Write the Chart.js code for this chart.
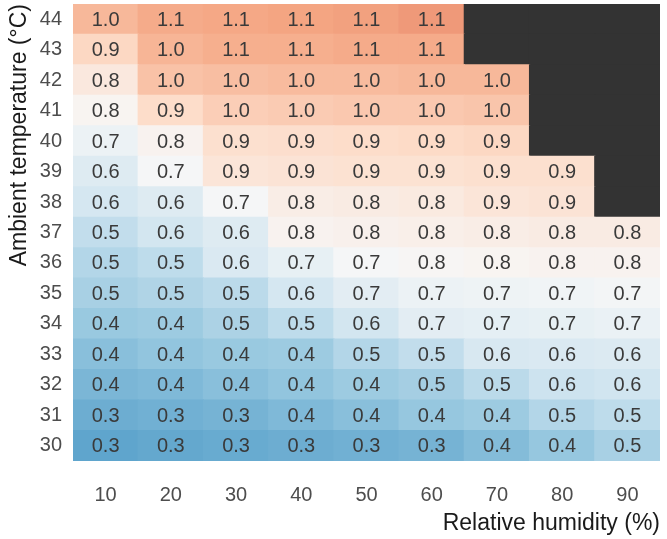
<!DOCTYPE html>
<html>
<head>
<meta charset="utf-8">
<script src="https://cdn.jsdelivr.net/npm/chart.js@4.4.1/dist/chart.umd.min.js"></script>
<style>
  html, body { margin: 0; padding: 0; background: #ffffff; }
  #wrap { width: 667px; height: 539px; position: relative; }
</style>
</head>
<body>
<div id="wrap"><canvas id="heat"></canvas></div>
<script>
// Relative humidity categories (%) along x
const humidity = ['10', '20', '30', '40', '50', '60', '70', '80', '90'];
// Ambient temperatures (°C) along y
const temperatures = [30, 31, 32, 33, 34, 35, 36, 37, 38, 39, 40, 41, 42, 43, 44];

// Cell values per temperature row, ordered by humidity 10..90 (null = no data)
const row30 = [0.30, 0.31, 0.32, 0.33, 0.34, 0.35, 0.38, 0.42, 0.47];
const row31 = [0.33, 0.34, 0.35, 0.37, 0.39, 0.42, 0.44, 0.50, 0.53];
const row32 = [0.36, 0.37, 0.39, 0.41, 0.44, 0.46, 0.52, 0.57, 0.58];
const row33 = [0.39, 0.41, 0.43, 0.44, 0.50, 0.54, 0.61, 0.62, 0.63];
const row34 = [0.43, 0.44, 0.48, 0.53, 0.59, 0.66, 0.67, 0.68, 0.69];
const row35 = [0.47, 0.49, 0.52, 0.60, 0.66, 0.70, 0.71, 0.72, 0.73];
const row36 = [0.50, 0.53, 0.62, 0.68, 0.74, 0.76, 0.77, 0.78, 0.78];
const row37 = [0.54, 0.59, 0.64, 0.78, 0.79, 0.80, 0.81, 0.82, 0.82];
const row38 = [0.60, 0.64, 0.74, 0.81, 0.82, 0.83, 0.86, 0.87, null];
const row39 = [0.64, 0.74, 0.86, 0.87, 0.88, 0.88, 0.89, 0.89, null];
const row40 = [0.70, 0.78, 0.89, 0.90, 0.91, 0.92, 0.93, null, null];
const row41 = [0.77, 0.91, 0.96, 0.97, 0.98, 0.98, 0.99, null, null];
const row42 = [0.84, 1.00, 1.01, 1.02, 1.02, 1.03, 1.03, null, null];
const row43 = [0.93, 1.04, 1.06, 1.06, 1.07, 1.07, null, null, null];
const row44 = [1.03, 1.07, 1.08, 1.09, 1.10, 1.12, null, null, null];

const rows = [row30, row31, row32, row33, row34, row35, row36, row37,
              row38, row39, row40, row41, row42, row43, row44];

// Diverging blue-white-red palette (RdBu reversed)
const palette = ['#053061', '#2166ac', '#4393c3', '#92c5de', '#d1e5f0', '#f7f7f7',
                 '#fddbc7', '#f4a582', '#d6604d', '#b2182b', '#67001f'];
const vmin = -0.1, vmax = 1.6;
const missingColor = '#333333';

function hexToRgb(h) {
  return [parseInt(h.slice(1, 3), 16), parseInt(h.slice(3, 5), 16), parseInt(h.slice(5, 7), 16)];
}
function colorFor(v) {
  if (v === null) return missingColor;
  let t = (v - vmin) / (vmax - vmin);
  t = Math.max(0, Math.min(1, t));
  const pos = t * (palette.length - 1);
  const i = Math.min(palette.length - 2, Math.floor(pos));
  const f = pos - i;
  const a = hexToRgb(palette[i]), b = hexToRgb(palette[i + 1]);
  const c = a.map((x, k) => Math.round(x + (b[k] - x) * f));
  return `rgb(${c[0]},${c[1]},${c[2]})`;
}

// One floating-bar dataset per temperature row
const datasets = temperatures.map((temp, r) => ({
  label: String(temp),
  data: humidity.map(() => [temp - 0.5, temp + 0.5]),
  cellValues: rows[r],
  backgroundColor: rows[r].map(colorFor),
  borderWidth: 0,
  barPercentage: 1.0,
  categoryPercentage: 1.0,
  inflateAmount: 0.6,
  grouped: false
}));

// Writes each cell's value in the middle of its bar
const cellLabels = {
  id: 'cellLabels',
  afterDatasetsDraw(chart) {
    const ctx = chart.ctx;
    ctx.save();
    ctx.font = '20px "Liberation Sans", Arial, sans-serif';
    ctx.fillStyle = '#3a3a3a';
    ctx.textAlign = 'center';
    ctx.textBaseline = 'middle';
    chart.data.datasets.forEach((ds, di) => {
      const meta = chart.getDatasetMeta(di);
      meta.data.forEach((el, i) => {
        const v = ds.cellValues[i];
        if (v === null) return;
        ctx.fillText(v.toFixed(1), el.x, (el.y + el.base) / 2 + 1);
      });
    });
    ctx.restore();
  }
};

const tickFont = { family: '"Liberation Sans", Arial, sans-serif', size: 20 };
const titleFont = { family: '"Liberation Sans", Arial, sans-serif', size: 23 };

new Chart(document.getElementById('heat'), {
  type: 'bar',
  data: { labels: humidity, datasets },
  plugins: [cellLabels],
  options: {
    responsive: true,
    maintainAspectRatio: false,
    animation: false,
    layout: { padding: { top: 4, right: 7, left: 0, bottom: 0 } },
    plugins: { legend: { display: false }, tooltip: { enabled: false } },
    scales: {
      x: {
        type: 'category',
        offset: true,
        grid: { display: false, drawTicks: false },
        border: { display: false },
        ticks: { font: tickFont, color: '#4d4d4d', padding: 22, maxRotation: 0 },
        title: {
          display: true,
          text: 'Relative humidity (%)',
          align: 'end',
          font: titleFont,
          color: '#1a1a1a',
          padding: { top: 0, bottom: 2 }
        },
        afterFit(scale) {
          scale.height = 78;
          scale.paddingLeft = 0;
          scale.paddingRight = 0;
        }
      },
      y: {
        type: 'linear',
        min: 29.5,
        max: 44.5,
        grid: { display: false, drawTicks: false },
        border: { display: false },
        ticks: { font: tickFont, color: '#4d4d4d', padding: 11 },
        afterBuildTicks(scale) {
          scale.ticks = temperatures.map(v => ({ value: v }));
        },
        title: {
          display: true,
          text: 'Ambient temperature (°C)',
          align: 'end',
          font: titleFont,
          color: '#1a1a1a',
          padding: { top: 6, bottom: 0 }
        },
        afterFit(scale) {
          scale.width = 73;
          scale.paddingTop = 0;
          scale.paddingBottom = 0;
        }
      }
    }
  }
});
</script>
</body>
</html>
